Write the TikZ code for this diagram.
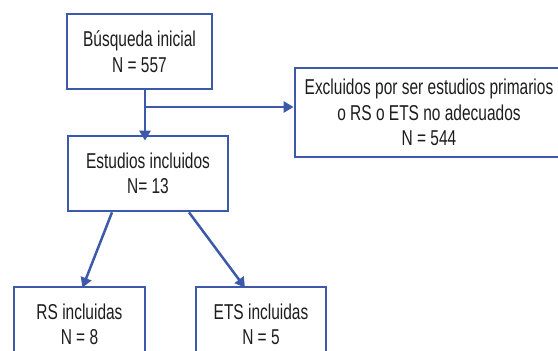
\documentclass[tikz,border=0pt]{standalone}
\usepackage{fontspec}
\setmainfont{Liberation Sans}[FakeStretch=0.72]
\usepackage{xcolor}
\usepackage{tikz}
\usetikzlibrary{arrows.meta}

\definecolor{flowblue}{RGB}{61,89,169}
\definecolor{flowtext}{RGB}{30,28,30}
\tikzset{
  flowbox/.style={draw=flowblue, line width=2.7pt, inner sep=0pt, align=center,
    text=flowtext, font=\fontsize{21.5}{25.5}\selectfont},
  flowarrow/.style={draw=flowblue, line width=2.5pt, -{Triangle[length=10pt,width=11pt]}},
}

\begin{document}
\begin{tikzpicture}[x=1pt,y=-1pt]
		\useasboundingbox (0,0) rectangle (558,351);
		\clip (0,0) rectangle (558,351);
		\node[flowbox, minimum width=145pt, minimum height=75pt] (busqueda) at (139.5,51.5) {B\'usqueda inicial\\N = 557};
		\node[flowbox, minimum width=160pt, minimum height=75pt] (estudios) at (148,173.5) {Estudios incluidos\\N= 13};
		\node[flowbox, minimum width=268pt, minimum height=89pt] (excluidos) at (429,112.5) {Excluidos por ser estudios primarios\\o RS o ETS no adecuados\\N = 544};
		\node[flowbox, minimum width=131pt, minimum height=75pt] (rs) at (79.5,324.5) {RS incluidas\\N = 8};
		\node[flowbox, minimum width=130pt, minimum height=75pt] (ets) at (261,324.5) {ETS incluidas\\N = 5};
		%
		\coordinate (split) at (145,107);
		\draw[flowarrow] ([yshift=2pt]busqueda.south -| split) -- ([yshift=-6pt]estudios.north -| split);
		\draw[flowarrow] (split) -- (split -| excluidos.west);
		\draw[flowarrow] ([xshift=-36pt]estudios.south) -- ([xshift=3pt,yshift=-2pt]rs.north);
		\draw[flowarrow] ([xshift=41pt]estudios.south) -- ([xshift=-16pt,yshift=-2pt]ets.north);
\end{tikzpicture}
\end{document}
